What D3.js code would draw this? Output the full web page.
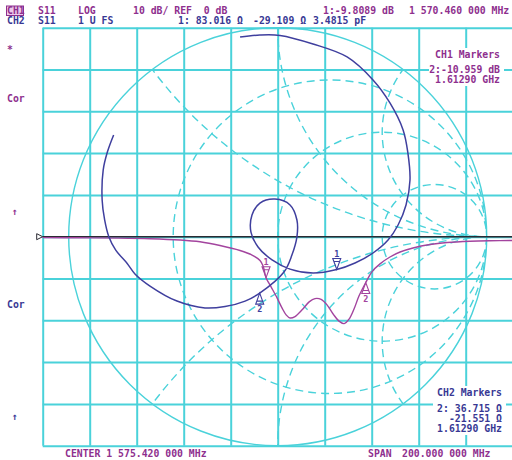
<!DOCTYPE html>
<html><head><meta charset="utf-8">
<script src="https://cdn.jsdelivr.net/npm/d3@7"></script>
<style>
html,body{margin:0;padding:0;background:#fff;}
svg{display:block;}
text{font-family:"DejaVu Sans Mono",monospace;font-size:9.8px;font-weight:bold;white-space:pre;}
</style></head><body>
<svg id="chart" width="512" height="460"></svg>
<script>
// Sweep settings
const centerMHz = 1575.42;
const spanMHz = 200;

// Channel 1: S11 log magnitude (dB) vs frequency (MHz)
const ch1Freq = [1475.42, 1491.29, 1507.04, 1521.08, 1533.85, 1542.36, 1550.87, 1559.38, 1564.49, 1567.89,
  1569.20, 1570.46, 1572.60, 1575.20, 1577.30, 1579.00, 1580.70, 1582.80, 1585.80, 1588.80,
  1591.30, 1593.90, 1596.40, 1599.00, 1601.50, 1603.70, 1605.80, 1607.90, 1610.00, 1612.90,
  1615.50, 1618.96, 1623.20, 1627.50, 1633.00, 1640.20, 1647.50, 1657.30, 1665.80, 1675.42];
const ch1Db = [-0.22, -0.26, -0.33, -0.48, -0.79, -1.22, -2.11, -3.30, -4.38, -5.69,
  -7.00, -9.8089, -12.0, -14.7, -17.1, -18.7, -19.45, -19.1, -17.5, -15.6,
  -14.8, -15.0, -16.3, -18.5, -20.2, -20.8, -19.7, -17.3, -14.2, -10.959,
  -8.4, -6.5, -4.86, -3.66, -2.70, -1.87, -1.39, -1.08, -0.96, -0.91];

// Channel 2: S11 reflection coefficient (real, imaginary) along the sweep
const ch2Re = [-0.180, -0.085, 0.011, 0.169, 0.332, 0.456, 0.537, 0.600, 0.623, 0.633,
  0.614, 0.576, 0.528, 0.456, 0.370, 0.2825, 0.169, 0.059, -0.027, -0.094,
  -0.128, -0.123, -0.085, -0.013, 0.059, 0.092, 0.092, 0.068, 0.030, -0.0861,
  -0.156, -0.252, -0.348, -0.482, -0.611, -0.683, -0.721, -0.775, -0.808, -0.828,
  -0.840, -0.835, -0.815, -0.785];
const ch2Im = [0.955, 0.965, 0.963, 0.922, 0.860, 0.750, 0.640, 0.511, 0.400, 0.271,
  0.152, 0.056, -0.016, -0.078, -0.126, -0.157, -0.174, -0.155, -0.111, -0.049,
  0.022, 0.104, 0.161, 0.180, 0.152, 0.080, -0.001, -0.088, -0.169, -0.2699,
  -0.308, -0.334, -0.341, -0.308, -0.236, -0.178, -0.127, -0.064, 0.000, 0.080,
  0.176, 0.319, 0.405, 0.487];

// Marker readouts
const markerIds = ["1", "2"];
const markerFreq = [1570.46, 1612.90];
const markerDb = [-9.8089, -10.959];
const markerR = [83.016, 36.715];
const markerX = [-29.109, -21.551];
const z0 = 50;

// Smith chart graticule values
const resCircles = [1 / 3, 1, 3];
const reactArcs = [0.5, 1, 2];

const PURPLE = "#8e2f8e", BLUE = "#383894", CYAN = "#4ad2da";
const TRACE1 = "#a3449e", TRACE2 = "#3f3f9e";

const svg = d3.select("#chart");
const L = 42.7, T = 27.7, W = 470, H = 418;

const x = d3.scaleLinear().domain([centerMHz - spanMHz / 2, centerMHz + spanMHz / 2]).range([L, L + W]);
const y = d3.scaleLinear().domain([-50, 50]).range([T + H, T]);
const gx = d3.scaleLinear().domain([0, 10]).range([L, L + W]);
const gy = d3.scaleLinear().domain([0, 10]).range([T, T + H]);
const cx = L + W / 2, cy = T + H / 2, R = H / 2;
const sx = d3.scaleLinear().domain([-1, 1]).range([cx - R, cx + R]);
const sy = d3.scaleLinear().domain([-1, 1]).range([cy + R, cy - R]);

// Rectangular graticule
svg.append("g").attr("transform", `translate(0,${T + H})`)
  .call(d3.axisBottom(gx).ticks(10).tickSize(-H).tickFormat(""))
  .call(g => { g.select(".domain").remove(); g.selectAll("line").attr("stroke", CYAN).attr("stroke-width", 2); });
svg.append("g").attr("transform", `translate(${L},0)`)
  .call(d3.axisLeft(gy).ticks(10).tickSize(-W).tickFormat(""))
  .call(g => { g.select(".domain").remove(); g.selectAll("line").attr("stroke", CYAN).attr("stroke-width", 2); });

// Smith chart graticule
svg.append("defs").append("clipPath").attr("id", "unit")
  .append("circle").attr("cx", cx).attr("cy", cy).attr("r", R);
const smith = svg.append("g");
smith.append("circle").attr("cx", cx).attr("cy", cy).attr("r", R)
  .attr("fill", "none").attr("stroke", CYAN).attr("stroke-width", 1.4);
const dashed = smith.append("g").attr("clip-path", "url(#unit)")
  .attr("fill", "none").attr("stroke", CYAN).attr("stroke-width", 1.4).attr("stroke-dasharray", "8,5");
dashed.selectAll("circle.res").data(resCircles).join("circle").attr("class", "res")
  .attr("cx", r => sx(r / (r + 1))).attr("cy", sy(0)).attr("r", r => sx(1 / (r + 1)) - sx(0));
const arcs = reactArcs.flatMap(v => [v, -v]);
dashed.selectAll("circle.react").data(arcs).join("circle").attr("class", "react")
  .attr("cx", sx(1)).attr("cy", v => sy(1 / v)).attr("r", v => sx(1 / Math.abs(v)) - sx(0));

// Reference line and reference position arrow
svg.append("line").attr("x1", L).attr("x2", 512).attr("y1", y(0)).attr("y2", y(0))
  .attr("stroke", "#2b2b33").attr("stroke-width", 1.5);
svg.append("path").attr("d", `M${L - 6},${y(0) - 3}L${L},${y(0)}L${L - 6},${y(0) + 3}Z`)
  .attr("fill", "#fff").attr("stroke", "#2b2b33").attr("stroke-width", 1);

// Channel 1 trace
const ch1 = ch1Freq.map((f, i) => [x(f), y(ch1Db[i])]);
svg.append("path").attr("d", d3.line().curve(d3.curveCatmullRom.alpha(0.5))(ch1))
  .attr("fill", "none").attr("stroke", TRACE1).attr("stroke-width", 1.4);

// Channel 2 trace
const ch2 = ch2Re.map((re, i) => [sx(re), sy(ch2Im[i])]);
svg.append("path").attr("d", d3.line().curve(d3.curveCatmullRom.alpha(0.5))(ch2))
  .attr("fill", "none").attr("stroke", TRACE2).attr("stroke-width", 1.5);

// Markers
function marker(px, py, id, color) {
  const g = svg.append("g").attr("stroke", color).attr("fill", "none").attr("stroke-width", 1.1);
  if (id === "1") {
    g.append("path").attr("d", `M${px - 4},${py - 11}L${px + 4},${py - 11}L${px},${py}Z M${px - 3},${py - 8}L${px + 3},${py - 8}`);
    svg.append("text").attr("x", px).attr("y", py - 13).attr("text-anchor", "middle")
      .attr("fill", color).style("font-size", "8.5px").text(id);
  } else {
    g.append("path").attr("d", `M${px - 4},${py + 11}L${px + 4},${py + 11}L${px},${py}Z M${px - 3},${py + 8}L${px + 3},${py + 8}`);
    svg.append("text").attr("x", px).attr("y", py + 19).attr("text-anchor", "middle")
      .attr("fill", color).style("font-size", "8.5px").text(id);
  }
}
markerIds.forEach((id, i) => {
  marker(x(markerFreq[i]), y(markerDb[i]), id, TRACE1);
  const zr = markerR[i] / z0, zi = markerX[i] / z0;
  const nr = zr - 1, ni = zi, dr = zr + 1, di = zi;
  const den = dr * dr + di * di;
  const gr = (nr * dr + ni * di) / den, gi = (ni * dr - nr * di) / den;
  marker(sx(gr), sy(gi), id, TRACE2);
});

// Annotation text
function txt(str, px, py, color, anchor) {
  svg.append("text").attr("x", px).attr("y", py).attr("fill", color)
    .attr("text-anchor", anchor || "start").text(str);
}
svg.append("rect").attr("x", 6.5).attr("y", 6).attr("width", 17).attr("height", 9.5)
  .attr("fill", "#ecc8ec").attr("stroke", PURPLE).attr("stroke-width", 1);
txt("CH1", 7, 14, PURPLE);
txt("S11", 38, 14, PURPLE);
txt("LOG", 78, 14, PURPLE);
txt("10 dB/ REF  0 dB", 133, 14, PURPLE);
txt("1:-9.8089 dB", 323, 14, PURPLE);
txt("1 570.460 000 MHz", 409, 14, PURPLE);
txt("CH2", 7, 24, BLUE);
txt("S11", 38, 24, BLUE);
txt("1 U FS", 78, 24, BLUE);
txt("1: 83.016 \u03a9", 178, 24, BLUE);
txt("-29.109 \u03a9", 253, 24, BLUE);
txt("3.4815 pF", 313, 24, BLUE);

txt("*", 7, 53, PURPLE);
txt("Cor", 7, 102, PURPLE);
txt("\u2191", 12, 215, PURPLE);
txt("Cor", 7, 308, BLUE);
txt("\u2191", 12, 420, BLUE);

txt("CENTER 1 575.420 000 MHz", 65, 457, PURPLE);
txt("SPAN", 368, 457, PURPLE);
txt("200.000 000 MHz", 402, 457, PURPLE);

svg.append("rect").attr("x", 429).attr("y", 48).attr("width", 75).attr("height", 38).attr("fill", "#fff");
txt("CH1 Markers", 500, 57.5, PURPLE, "end");
txt("2:-10.959 dB", 500, 73, PURPLE, "end");
txt("1.61290 GHz", 500, 83, PURPLE, "end");

svg.append("rect").attr("x", 433).attr("y", 386).attr("width", 73).attr("height", 49).attr("fill", "#fff");
txt("CH2 Markers", 502, 396, BLUE, "end");
txt("2: 36.715 \u03a9", 502, 412, BLUE, "end");
txt("-21.551 \u03a9", 502, 422, BLUE, "end");
txt("1.61290 GHz", 502, 432, BLUE, "end");
</script></body></html>
